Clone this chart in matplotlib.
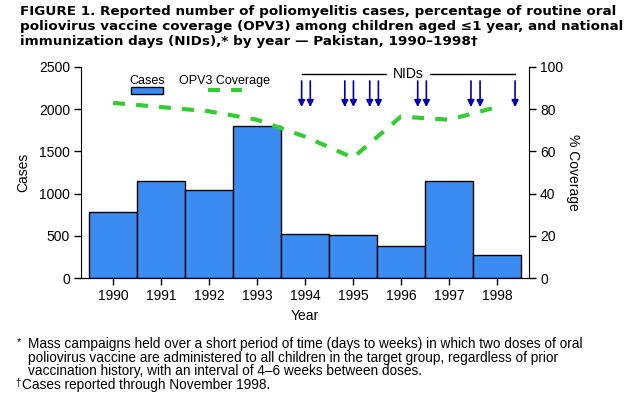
import matplotlib
matplotlib.use('Agg')
import matplotlib.pyplot as plt
from matplotlib.patches import Rectangle
from matplotlib.lines import Line2D

plt.rcParams['font.family'] = ['Liberation Sans', 'DejaVu Sans']
plt.rcParams['lines.scale_dashes'] = False

# data
years = [1990, 1991, 1992, 1993, 1994, 1995, 1996, 1997, 1998]
cases = [780, 1150, 1040, 1800, 520, 505, 375, 1150, 270]
coverage = [83, 81, 79, 75, 67, 57, 76.5, 75, 81]
nid_dates = [1993.93, 1994.11, 1994.83, 1995.01, 1995.35, 1995.53,
             1996.35, 1996.53, 1997.46, 1997.65, 1998.38]

bar_color = '#3a8cf2'
green = '#33cc33'
arrow_color = '#0000aa'

fig = plt.figure(figsize=(6.36, 3.99), dpi=100)
ax = fig.add_axes([81 / 636, 1 - 278 / 399, 448 / 636, 211 / 399])
ax2 = ax.twinx()

ax.bar(years, cases, width=1.0, color=bar_color, edgecolor='black', linewidth=1)
ax.set_xlim(1989.33, 1998.67)
ax.set_ylim(0, 2500)
ax.set_yticks([0, 500, 1000, 1500, 2000, 2500])
ax.set_xticks(years)
ax.set_ylabel('Cases', fontsize=10, labelpad=6)
ax.set_xlabel('Year', fontsize=10, labelpad=4)

ax2.plot(years, coverage, color=green, lw=3, dashes=(8.6, 8.0))
ax2.set_ylim(0, 100)
ax2.set_yticks([0, 20, 40, 60, 80, 100])
ax2.set_ylabel('% Coverage', fontsize=10, rotation=270, labelpad=12)

for a in (ax, ax2):
    a.spines['top'].set_visible(False)
    a.tick_params(labelsize=10, length=5, width=1, direction='out', pad=3)
ax2.spines['left'].set_visible(False)
ax.spines['right'].set_visible(False)

# NIDs bracket and arrows
ax2.plot([nid_dates[0], nid_dates[-1]], [96.7, 96.7], color='black', lw=1)
ax2.text((nid_dates[0] + nid_dates[-1]) / 2, 96.7, 'NIDs', fontsize=10,
         ha='center', va='center', backgroundcolor='white')
for d in nid_dates:
    ax2.annotate('', xy=(d, 81), xytext=(d, 93.4),
                 arrowprops=dict(arrowstyle='-|>', color=arrow_color, lw=1.2,
                                 mutation_scale=10, shrinkA=0, shrinkB=0))

# legend drawn by hand: labels above the symbols
ax.add_patch(Rectangle((0.112, 0.871), 0.071, 0.033, transform=ax.transAxes,
                       facecolor=bar_color, edgecolor='black', lw=1))
ax.text(0.147, 0.934, 'Cases', transform=ax.transAxes, fontsize=9,
        ha='center', va='center')
ax.add_line(Line2D([0.283, 0.359], [0.890, 0.890], transform=ax.transAxes,
                   color=green, lw=3, dashes=(8.6, 8.0)))
ax.text(0.321, 0.934, 'OPV3 Coverage', transform=ax.transAxes, fontsize=9,
        ha='center', va='center')

title = ['FIGURE 1. Reported number of poliomyelitis cases, percentage of routine oral',
         'poliovirus vaccine coverage (OPV3) among children aged \u22641 year, and national',
         'immunization days (NIDs),* by year \u2014 Pakistan, 1990\u20131998\u2020']
for i, line in enumerate(title):
    fig.text(20 / 636, 1 - (12 + 14.5 * i) / 399, line, fontsize=9.7,
             fontweight='bold', va='center', ha='left',
             family=['DejaVu Sans'])

notes = ['Mass campaigns held over a short period of time (days to weeks) in which two doses of oral',
         'poliovirus vaccine are administered to all children in the target group, regardless of prior',
         'vaccination history, with an interval of 4\u20136 weeks between doses.',
         'Cases reported through November 1998.']
for i, line in enumerate(notes):
    y = 1 - (344 + 13.7 * i) / 399
    fig.text(28 / 636 if i < 3 else 22 / 636, y, line, fontsize=9.8,
             va='center', ha='left')
fig.text(17 / 636, 1 - 342 / 399, '*', fontsize=8, va='center', ha='left')
fig.text(15 / 636, 1 - 383 / 399, '\u2020', fontsize=7, va='center', ha='left')

fig.savefig('out.png', dpi=100)
